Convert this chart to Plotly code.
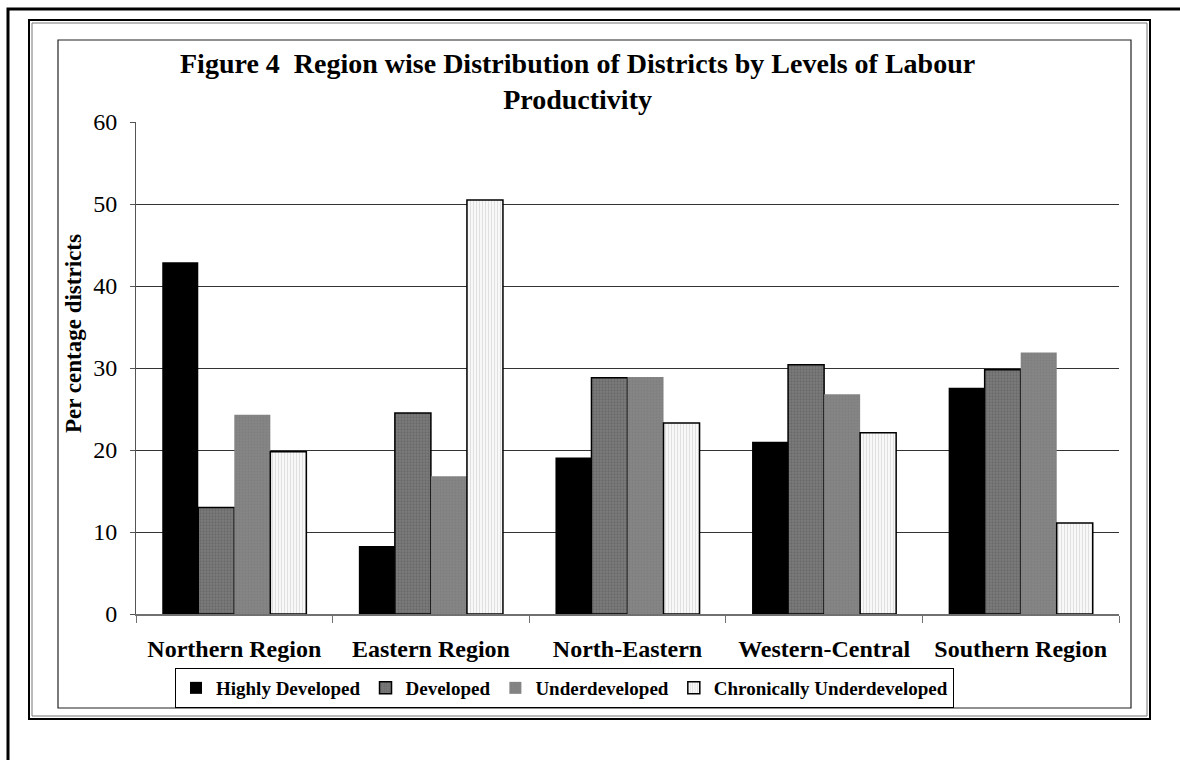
import plotly.graph_objects as go

# ---- data ----
regions = ["Northern Region", "Eastern Region", "North-Eastern", "Western-Central", "Southern Region"]
highly_developed = [42.9, 8.3, 19.1, 21.0, 27.6]
developed = [13.0, 24.5, 28.8, 30.4, 29.8]
underdeveloped = [24.3, 16.8, 28.9, 26.8, 31.9]
chronically_underdeveloped = [19.8, 50.5, 23.3, 22.1, 11.1]
y_ticks = [0, 10, 20, 30, 40, 50, 60]

# ---- layout geometry ----
W, H = 1180, 760
L, R, T, B = 136, 61, 122, 146
PW, PH = W - L - R, H - T - B


def fx(px):
    return (px - L) / PW


def fy(py):
    return (H - B - py) / PH


FONT = "Liberation Serif, Times New Roman, serif"

fig = go.Figure()
fig.add_trace(go.Bar(
    name="Highly Developed", x=regions, y=highly_developed,
    marker=dict(color="#000000", line=dict(width=0)),
))
fig.add_trace(go.Bar(
    name="Developed", x=regions, y=developed,
    marker=dict(color="#7c7c7c", line=dict(color="#000000", width=1.5),
                pattern=dict(shape=".", fgcolor="#555555", size=3, solidity=0.45, fillmode="overlay")),
))
fig.add_trace(go.Bar(
    name="Underdeveloped", x=regions, y=underdeveloped,
    marker=dict(color="#858585", line=dict(width=0),
                pattern=dict(shape=".", fgcolor="#777777", size=3, solidity=0.3, fillmode="overlay")),
))
fig.add_trace(go.Bar(
    name="Chronically Underdeveloped", x=regions, y=chronically_underdeveloped,
    marker=dict(color="#f8f8f8", line=dict(color="#000000", width=1.5),
                pattern=dict(shape="|", fgcolor="#c4c4c4", size=3, solidity=0.3, fillmode="overlay")),
))

shapes = [
    # outer thick page line (left and top)
    dict(type="path", xref="paper", yref="paper",
         path=f"M {fx(8)} {fy(762)} L {fx(8)} {fy(9)} L {fx(1182)} {fy(9)}",
         line=dict(color="#000000", width=3)),
    # double frame
    dict(type="rect", xref="paper", yref="paper", x0=fx(29), x1=fx(1150), y0=fy(719), y1=fy(20),
         line=dict(color="#000000", width=2)),
    dict(type="rect", xref="paper", yref="paper", x0=fx(32), x1=fx(1147), y0=fy(716), y1=fy(23),
         line=dict(color="#777777", width=1)),
    # chart area border
    dict(type="rect", xref="paper", yref="paper", x0=fx(58), x1=fx(1131), y0=fy(708), y1=fy(40),
         line=dict(color="#222222", width=1.2)),
]

fig.update_layout(
    width=W, height=H,
    margin=dict(l=L, r=R, t=T, b=B),
    paper_bgcolor="white", plot_bgcolor="white",
    barmode="group", bargap=0.267, bargroupgap=0,
    font=dict(family=FONT, color="#000000"),
    shapes=shapes,
    showlegend=True,
    legend=dict(
        orientation="h", x=fx(175), y=fy(668), xanchor="left", yanchor="top",
        bordercolor="#000000", borderwidth=1, bgcolor="white",
        font=dict(family=FONT, size=19, color="#000000", weight="bold"),
        itemwidth=30, traceorder="normal",
    ),
    annotations=[
        dict(text="<b>Figure 4  Region wise Distribution of Districts by Levels of Labour</b><br><b>Productivity</b>",
             xref="paper", yref="paper", x=fx(577), y=fy(81), xanchor="center", yanchor="middle",
             showarrow=False, font=dict(family=FONT, size=28, color="#000000")),
        dict(text="<b>Per centage districts</b>", textangle=-90,
             xref="paper", yref="paper", x=fx(73), y=fy(334), xanchor="center", yanchor="middle",
             showarrow=False, font=dict(family=FONT, size=23, color="#000000")),
    ],
)

fig.update_xaxes(
    showline=True, linecolor="#707070", linewidth=1.5,
    ticks="outside", tickson="boundaries", ticklen=7, tickcolor="#707070", tickwidth=1,
    tickfont=dict(family=FONT, size=24, color="#000000", weight="bold"),
    ticklabelstandoff=12,
    showgrid=False, zeroline=False,
)
fig.update_yaxes(
    range=[0, 60], tickvals=y_ticks,
    showline=True, linecolor="#555555", linewidth=1,
    ticks="outside", ticklen=5, tickcolor="#555555",
    tickfont=dict(family=FONT, size=24, color="#000000"),
    ticklabelstandoff=8,
    showgrid=True, gridcolor="#333333", gridwidth=1, zeroline=False,
)

fig.write_html("out.html", config={"displayModeBar": False},
               post_script="document.body.style.margin='0';")
